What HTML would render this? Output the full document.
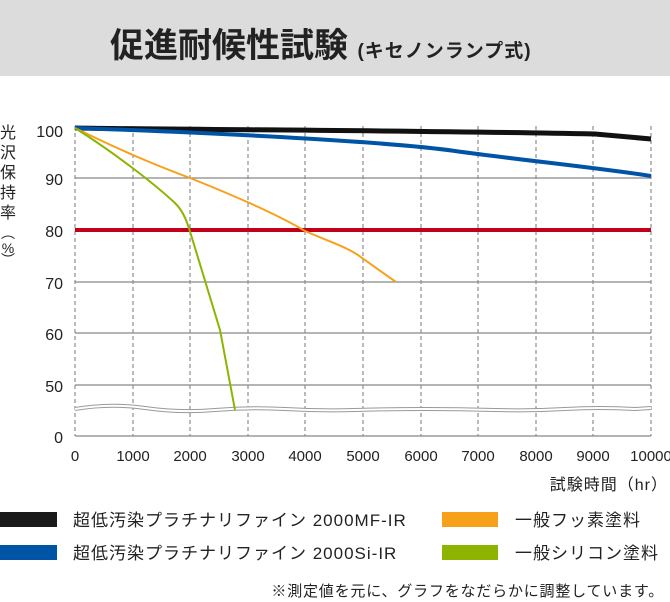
<!DOCTYPE html>
<html><head><meta charset="utf-8"><style>
body{margin:0;width:670px;height:602px;background:#fff;font-family:"Liberation Sans","Noto Sans CJK JP",sans-serif;color:#222;position:relative;overflow:hidden}
.hd{position:absolute;left:0;top:0;width:670px;height:76px;background:#dcdcdc}
.t{position:absolute;left:110px;top:18px;font-size:34px;font-weight:bold;color:#222;white-space:nowrap}
.t small{font-size:19px;font-weight:bold;letter-spacing:1px}
</style></head><body>
<div class="hd"></div>
<div class="t">促進耐候性試験 <small>(キセノンランプ式)</small></div>
<svg width="670" height="602" style="position:absolute;left:0;top:0" font-family="Liberation Sans, Noto Sans CJK JP, sans-serif">
<g stroke="#777" stroke-width="1" stroke-dasharray="4,3">
<line x1="75" y1="126" x2="75" y2="436"/><line x1="133" y1="126" x2="133" y2="436"/><line x1="190" y1="126" x2="190" y2="436"/><line x1="248" y1="126" x2="248" y2="436"/><line x1="305" y1="126" x2="305" y2="436"/><line x1="363" y1="126" x2="363" y2="436"/><line x1="421" y1="126" x2="421" y2="436"/><line x1="478" y1="126" x2="478" y2="436"/><line x1="536" y1="126" x2="536" y2="436"/><line x1="593" y1="126" x2="593" y2="436"/><line x1="651" y1="126" x2="651" y2="436"/>
</g>
<g stroke="#888" stroke-width="1.2">
<line x1="75" y1="178" x2="651" y2="178"/><line x1="75" y1="282" x2="651" y2="282"/><line x1="75" y1="333" x2="651" y2="333"/><line x1="75" y1="385" x2="651" y2="385"/><line x1="75" y1="436" x2="651" y2="436"/>
</g>
<path d="M75 409 Q110 403 145 408 T215 410 T285 409 T355 410 T425 409 T495 410 T565 409 T635 409 L651 408" fill="none" stroke="#999" stroke-width="4"/>
<path d="M75 409 Q110 403 145 408 T215 410 T285 409 T355 410 T425 409 T495 410 T565 409 T635 409 L651 408" fill="none" stroke="#fff" stroke-width="2"/>
<line x1="75" y1="230" x2="651" y2="230" stroke="#c0001a" stroke-width="4"/>
<path d="M75 128 C200 130 400 130 595 134 L651 139" fill="none" stroke="#111" stroke-width="5"/>
<path d="M75 128 C250 134 400 143 455 151 C520 160 600 168 651 176" fill="none" stroke="#0054a6" stroke-width="4"/>
<path d="M75 128 C120 150 150 163 190 178 C240 198 280 216 305 231 C330 242 350 248 362 258 L396 282" fill="none" stroke="#f7a11a" stroke-width="2"/>
<path d="M75 128 C110 150 150 180 175 203 C185 213 188 225 192 238 L220 330 L235 410" fill="none" stroke="#8cb400" stroke-width="2"/>
<g font-size="16" fill="#222" text-anchor="end">
<text x="63" y="137">100</text><text x="63" y="185">90</text><text x="63" y="237">80</text><text x="63" y="289">70</text><text x="63" y="340">60</text><text x="63" y="392">50</text><text x="63" y="443">0</text>
</g>
<g font-size="15" fill="#222" text-anchor="middle">
<text x="75" y="461">0</text><text x="133" y="461">1000</text><text x="190" y="461">2000</text><text x="248" y="461">3000</text><text x="305" y="461">4000</text><text x="363" y="461">5000</text><text x="421" y="461">6000</text><text x="478" y="461">7000</text><text x="536" y="461">8000</text><text x="593" y="461">9000</text><text x="651" y="461">10000</text>
</g>
<g font-size="16" fill="#222" text-anchor="middle">
<text x="8" y="138">光</text><text x="8" y="158">沢</text><text x="8" y="178">保</text><text x="8" y="198">持</text><text x="8" y="218">率</text><text x="8" y="238" font-size="14">︵</text><text x="8" y="253" font-size="14">%</text><text x="8" y="265" font-size="14">︶</text>
</g>
<text x="668" y="490" font-size="16" fill="#222" text-anchor="end" letter-spacing="1">試験時間（hr）</text>
<rect x="0" y="512" width="57" height="15" fill="#1a1a1a"/>
<rect x="0" y="545" width="57" height="15" fill="#0054a6"/>
<rect x="442" y="512" width="56" height="15" fill="#f7a11a"/>
<rect x="442" y="545" width="56" height="15" fill="#8cb400"/>
<g font-size="17" fill="#222" letter-spacing="1">
<text x="73" y="526">超低汚染プラチナリファイン 2000MF-IR</text>
<text x="73" y="559">超低汚染プラチナリファイン 2000Si-IR</text>
<text x="515" y="526">一般フッ素塗料</text>
<text x="515" y="559">一般シリコン塗料</text>
</g>
<text x="664" y="596" font-size="15" fill="#222" text-anchor="end" letter-spacing="0.8">※測定値を元に、グラフをなだらかに調整しています。</text>
</svg>
</body></html>
